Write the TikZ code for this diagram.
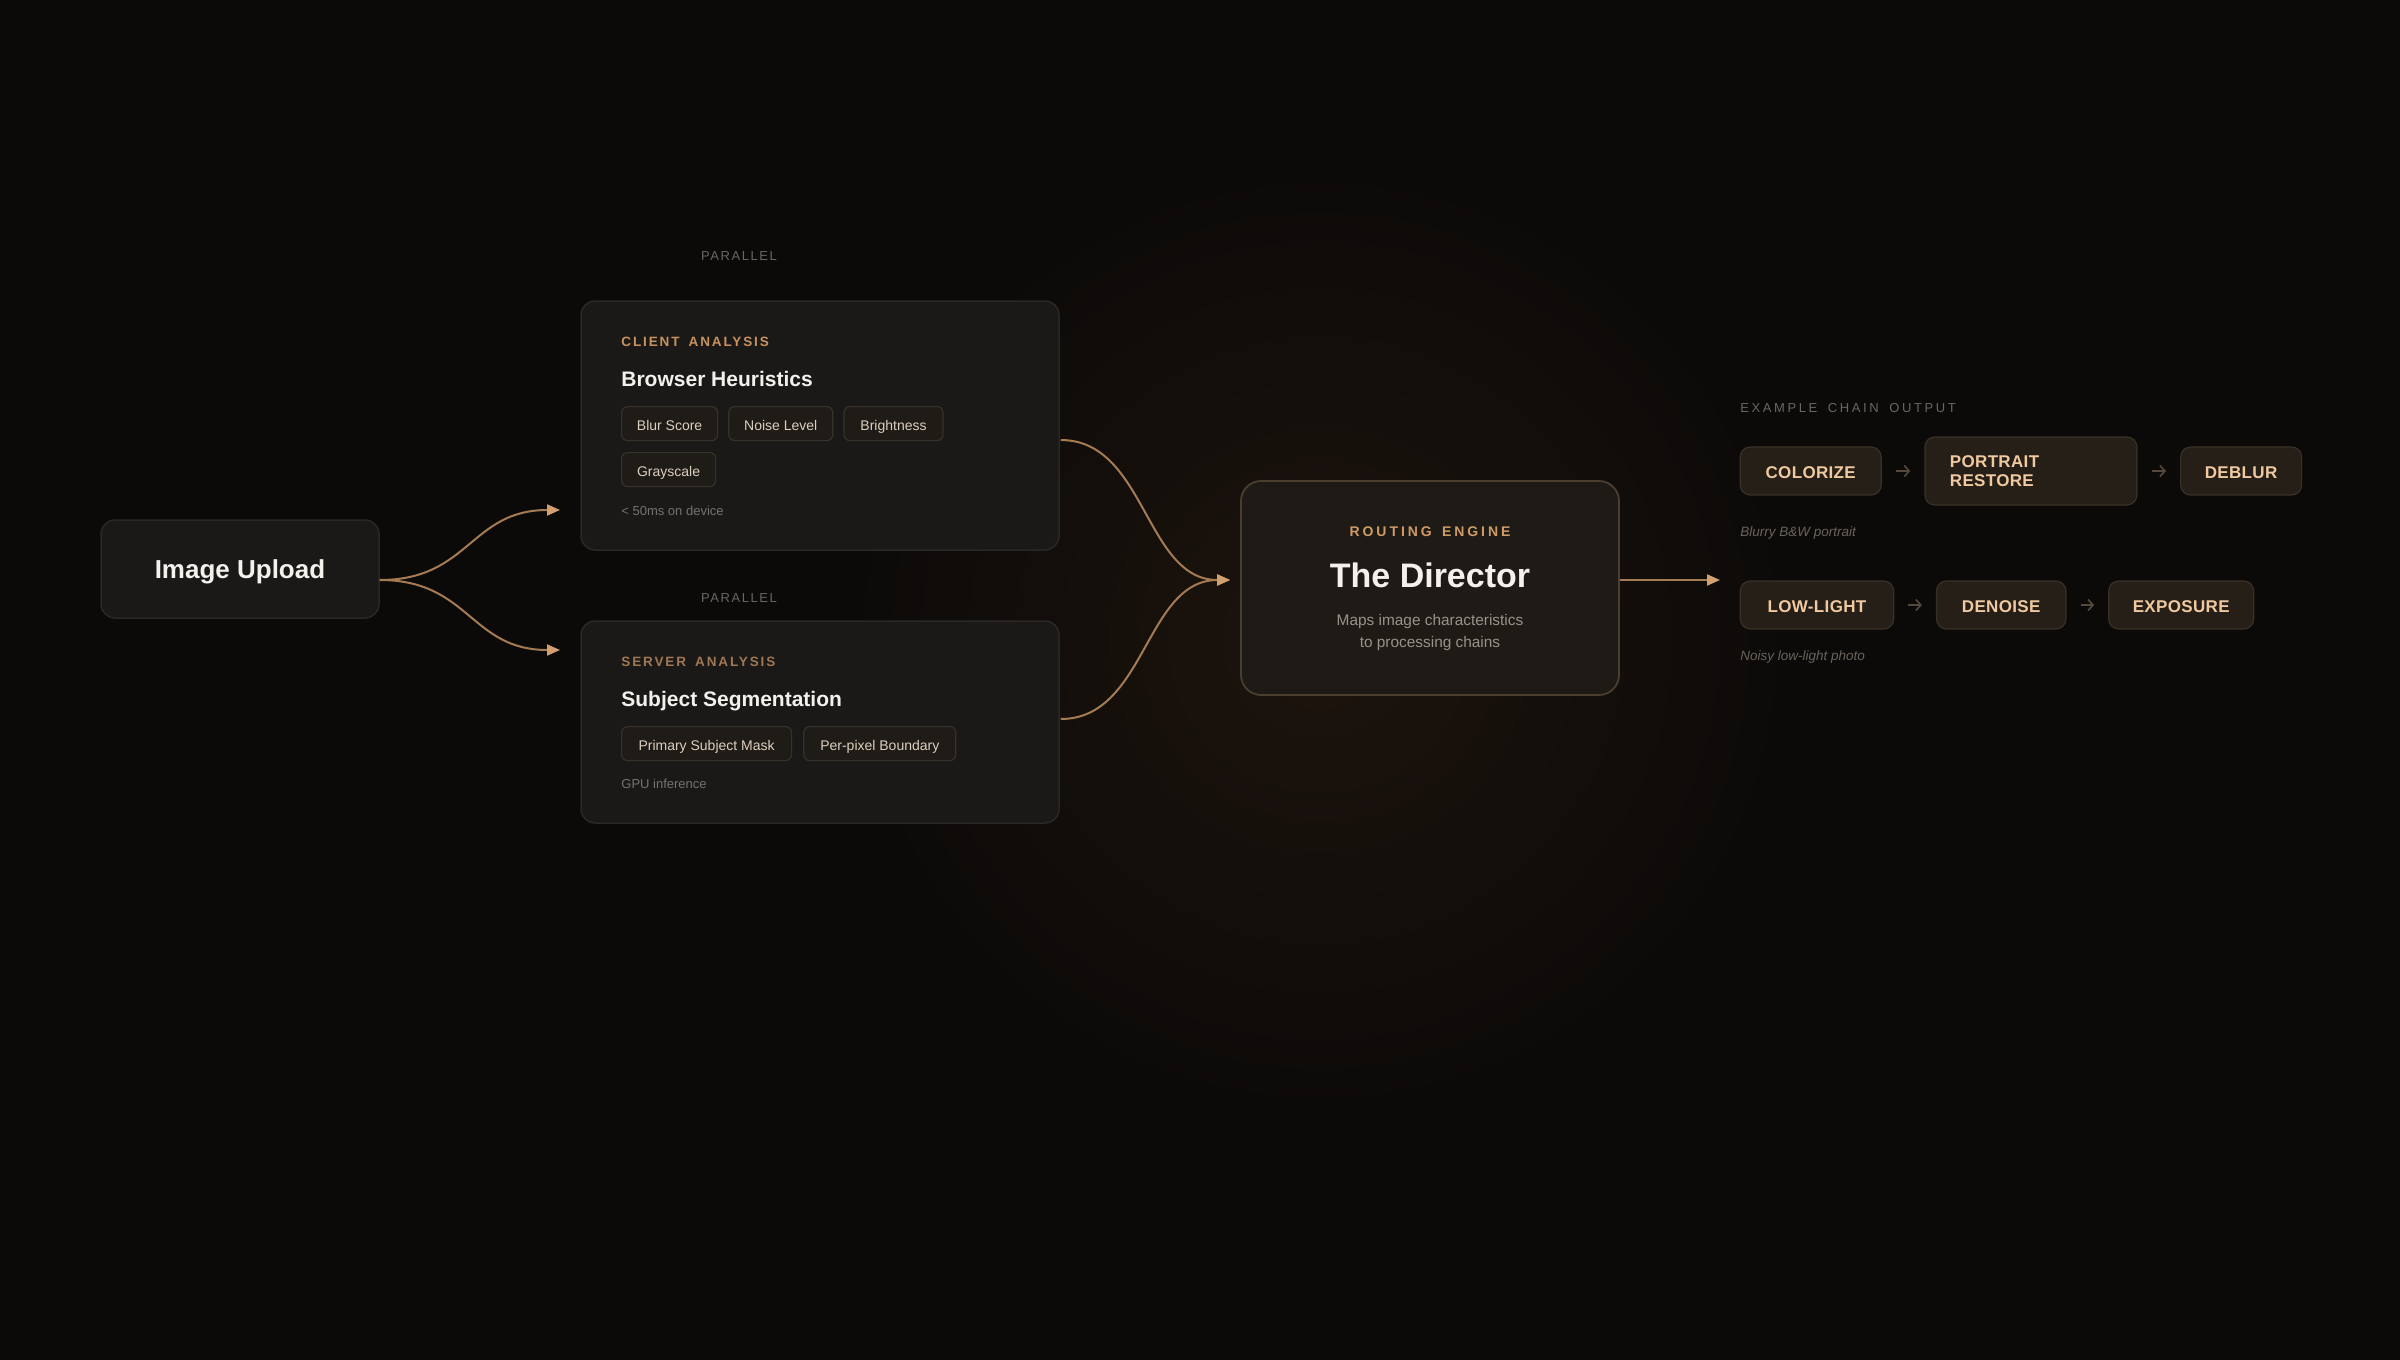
\documentclass[tikz,border=0pt]{standalone}
\usepackage{fontspec}
\setmainfont{Liberation Sans}
\newfontfamily\capsfont{Liberation Sans}[LetterSpace=14, WordSpace=1.6]
\newfontfamily\parfont{Liberation Sans}[LetterSpace=12]
\newfontfamily\headfont{Liberation Sans}[LetterSpace=20, WordSpace=1.7]
\newfontfamily\routefont{Liberation Sans}[LetterSpace=21, WordSpace=1.5]
\newfontfamily\chainfont{Liberation Sans}[LetterSpace=2]
\usetikzlibrary{arrows.meta,calc,positioning}

\definecolor{bg}{HTML}{0C0A09}
\definecolor{glow}{HTML}{1D140D}
\definecolor{cardfill}{HTML}{1A1918}
\definecolor{cardline}{HTML}{2A2724}
\definecolor{hubfill}{HTML}{1E1B17}
\definecolor{hubline}{HTML}{4A3E31}
\definecolor{chipfill}{HTML}{1F1C18}
\definecolor{chipline}{HTML}{383129}
\definecolor{chiptext}{HTML}{DCCFBE}
\definecolor{accent}{HTML}{C8925F}
\definecolor{accentdim}{HTML}{A07753}
\definecolor{routec}{HTML}{D09A65}
\definecolor{titlec}{HTML}{F4F1EC}
\definecolor{muted}{HTML}{77716B}
\definecolor{parc}{HTML}{6B655F}
\definecolor{flowc}{HTML}{A57B53}
\definecolor{tipc}{HTML}{D2A06F}
\definecolor{chainfill}{HTML}{261F18}
\definecolor{chainline}{HTML}{3A3027}
\definecolor{peach}{HTML}{F0C9A0}
\definecolor{chainarr}{HTML}{55493D}
\definecolor{notec}{HTML}{6A635C}
\definecolor{subtext}{HTML}{9A928A}

\tikzset{
  card/.style={draw=cardline, fill=cardfill, line width=0.75pt, rounded corners=7pt},
  hub/.style={draw=hubline, fill=hubfill, line width=0.9pt, rounded corners=10pt,
    minimum width=189pt, minimum height=107pt},
  chip/.style={draw=chipline, fill=chipfill, line width=0.6pt, rounded corners=3pt,
    minimum height=17pt, inner xsep=0pt, text=chiptext, text height=0.72em, text depth=0pt,
    font=\fontsize{7}{8.4}\selectfont},
  chainbase/.style={draw=chainline, fill=chainfill, line width=0.6pt, rounded corners=5pt,
    text=peach, font=\chainfont\bfseries\fontsize{8.5}{9.8}\selectfont},
  chainbox/.style={chainbase, minimum height=24pt, inner xsep=0pt,
    text height=0.72em, text depth=0pt},
  caps/.style={anchor=base west, inner sep=0pt, font=\capsfont\bfseries\fontsize{6.75}{8}\selectfont},
  cardtitle/.style={anchor=base west, inner sep=0pt, text=titlec, font=\bfseries\fontsize{10.5}{12}\selectfont},
  foot/.style={anchor=base west, inner sep=0pt, text=muted, font=\fontsize{6.5}{8}\selectfont},
  parlbl/.style={anchor=base, inner sep=0pt, text=parc, font=\parfont\fontsize{6.5}{8}\selectfont},
  note/.style={anchor=base west, inner sep=0pt, text=notec, font=\itshape\fontsize{6.75}{8}\selectfont},
  flow/.style={draw=flowc, line width=1pt, -{Triangle[length=6.5pt,width=5.5pt,color=tipc]}},
  chainarrow/.style={draw=chainarr, line width=0.8pt, shorten <=7pt, shorten >=7pt,
    -{Straight Barb[length=2.5pt,width=5.5pt]}}
}

\begin{document}
\begin{tikzpicture}[x=0.5pt, y=-0.5pt]
  \useasboundingbox (0,0) rectangle (2400,1360);
  \fill[bg] (0,0) rectangle (2400,1360);
  \begin{scope}
    \clip (0,0) rectangle (2400,1360);
    \shade[inner color=glow, outer color=bg] (1320,640) circle[radius=470];
  \end{scope}

  % input
  \node[card, minimum width=139pt, minimum height=49pt, text=titlec, text depth=0pt,
    font=\bfseries\fontsize{13}{15}\selectfont] (upload) at (240,569) {Image Upload};

  % client analysis
  \node[parlbl] (par1) at (739,260.7) {PARALLEL};
  \node[card, minimum width=239pt, minimum height=124.5pt] (client) at (820,425.5) {};
  \node[caps, text=accent] (clientlbl) at (621,346) {CLIENT ANALYSIS};
  \node[cardtitle] (clienttitle) at (621,386.7) {Browser Heuristics};
  \node[chip, minimum width=48pt, anchor=north west] (blur) at (621,406) {Blur Score};
  \node[chip, minimum width=52pt, right=5pt of blur] (noise) {Noise Level};
  \node[chip, minimum width=49.5pt, right=5pt of noise] (bright) {Brightness};
  \node[chip, minimum width=47pt, anchor=north west] (gray) at (621,452) {Grayscale};
  \node[foot] (clientfoot) at (621,515) {< 50ms on device};

  % server analysis
  \node[parlbl] (par2) at (739,602.7) {PARALLEL};
  \node[card, minimum width=239pt, minimum height=101pt] (server) at (820,722) {};
  \node[caps, text=accentdim] (serverlbl) at (621,666) {SERVER ANALYSIS};
  \node[cardtitle] (servertitle) at (621,706) {Subject Segmentation};
  \node[chip, minimum width=85pt, anchor=north west] (mask) at (621,726) {Primary Subject Mask};
  \node[chip, minimum width=76pt, right=5.5pt of mask] (boundary) {Per-pixel Boundary};
  \node[foot] (serverfoot) at (621,788) {GPU inference};

  % director
  \node[hub] (director) at (1430,588) {};
  \node[anchor=base, text=routec, font=\routefont\bfseries\fontsize{7}{8}\selectfont]
    (routelbl) at (1430,536.7) {ROUTING ENGINE};
  \node[anchor=base, text=titlec, font=\bfseries\fontsize{17}{20}\selectfont]
    (dirtitle) at (1430,587.3) {The Director};
  \node[align=center, text=subtext, font=\fontsize{7.7}{11}\selectfont]
    (dirsub) at (1430,633) {Maps image characteristics\\to processing chains};

  % chains
  \node[anchor=base west, inner sep=0pt, text=parc, font=\headfont\fontsize{6.5}{8}\selectfont]
    (chainhead) at (1740,412.7) {EXAMPLE CHAIN OUTPUT};
  \begin{scope}[node distance=21.25pt]
    \node[chainbox, minimum width=70.5pt] (colorize) at (1810.7,471) {COLORIZE};
    \node[chainbase, minimum height=34pt, inner xsep=12.5pt, text width=81pt, align=left,
      right=of colorize] (portrait) {PORTRAIT\\RESTORE};
    \node[chainbox, minimum width=60.5pt, right=of portrait] (deblur) {DEBLUR};
  \end{scope}
  \begin{scope}[node distance=20.8pt]
    \node[chainbox, minimum width=76.7pt] (lowlight) at (1817,605) {LOW-LIGHT};
    \node[chainbox, minimum width=64.7pt, right=of lowlight] (denoise) {DENOISE};
    \node[chainbox, minimum width=72.5pt, right=of denoise] (exposure) {EXPOSURE};
  \end{scope}
  \node[note] (note1) at (1740,536.7) {Blurry B\&W portrait};
  \node[note] (note2) at (1740,660.7) {Noisy low-light photo};

  \draw[chainarrow] (colorize) -- (portrait);
  \draw[chainarrow] (portrait) -- (deblur);
  \draw[chainarrow] (lowlight) -- (denoise);
  \draw[chainarrow] (denoise) -- (exposure);

  % connectors
  \coordinate (upout) at ($(upload.east)+(0,11)$);
  \coordinate (clientin) at (560,510);
  \coordinate (serverin) at (560,650);
  \coordinate (clientout) at ($(client.east)+(1,14.5)$);
  \coordinate (serverout) at ($(server.east)+(1,-3)$);
  \coordinate (dirin) at (1230,580);
  \coordinate (dirout) at ($(director.east)+(0,-8)$);
  \coordinate (chainin) at (1720,580);

  \draw[flow] (upout) .. controls +(90,0) and +(-90,0) .. (clientin);
  \draw[flow] (upout) .. controls +(90,0) and +(-90,0) .. (serverin);
  \draw[flow] (clientout) .. controls +(85,0) and +(-85,0) .. (dirin);
  \draw[flow] (serverout) .. controls +(85,0) and +(-85,0) .. (dirin);
  \draw[flow] (dirout) -- (chainin);
\end{tikzpicture}
\end{document}
